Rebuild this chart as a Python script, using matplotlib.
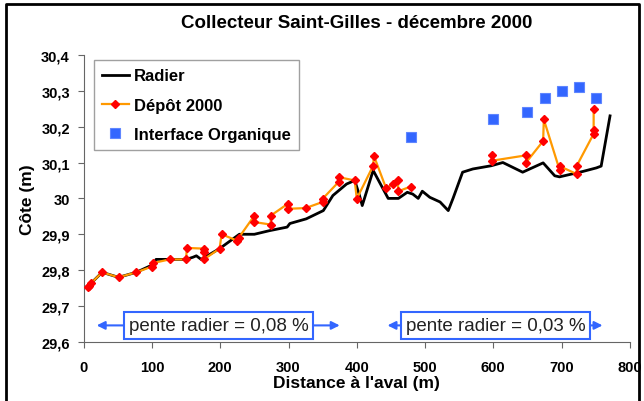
import matplotlib
matplotlib.use("Agg")
import matplotlib.pyplot as plt
from matplotlib.lines import Line2D
from matplotlib.ticker import FuncFormatter

# Radier (bottom of the sewer)
radier_x = [5, 11, 27, 51, 77, 101, 106, 150, 160, 165, 172, 199, 228, 250, 272, 298, 302,
            326, 351, 365, 385, 397, 404, 408, 424, 446, 461, 474, 482, 490, 496, 507, 522,
            534, 541, 555, 570, 597, 614, 643, 673, 690, 697, 731, 751, 758, 771]
radier_y = [29.752, 29.764, 29.794, 29.78, 29.794, 29.815, 29.83, 29.83, 29.836, 29.84, 29.83,
            29.86, 29.90, 29.90, 29.91, 29.92, 29.93, 29.943, 29.966, 30.008, 30.04, 30.05,
            30.008, 29.98, 30.078, 30.0, 30.0, 30.017, 30.012, 30.0, 30.02, 30.003, 29.99,
            29.966, 30.0, 30.073, 30.082, 30.091, 30.1, 30.073, 30.099, 30.063, 30.06, 30.075,
            30.085, 30.09, 30.23]

# Depot 2000 (gap between 480 and 600 m)
depot_x = [6, 8, 11, 27, 51, 77, 100, 102, 126, 150, 151, 176, 176, 176, 199, 202, 225, 227,
           250, 250, 274, 274, 299, 299, 325, 350, 350, 374, 374, 397, 400, 424, 425, 443,
           453, 460, 461, 479, None,
           598, 598, 648, 648, 673, 674, 697, 697, 722, 722, 747, 747, 747]
depot_y = [29.752, 29.757, 29.764, 29.794, 29.78, 29.794, 29.81, 29.82, 29.83, 29.83, 29.862,
           29.86, 29.85, 29.83, 29.86, 29.90, 29.882, 29.89, 29.952, 29.934, 29.927, 29.952,
           29.985, 29.971, 29.973, 29.99, 29.999, 30.047, 30.059, 30.05, 29.999, 30.091,
           30.119, 30.028, 30.04, 30.05, 30.02, 30.033, None,
           30.12, 30.105, 30.12, 30.10, 30.16, 30.22, 30.08, 30.09, 30.068, 30.09, 30.18,
           30.19, 30.25]

# Interface organique
interface_x = [480, 600, 650, 675, 700, 725, 750]
interface_y = [30.17, 30.22, 30.24, 30.28, 30.30, 30.31, 30.28]

x_ticks = [0, 100, 200, 300, 400, 500, 600, 700, 800]
y_ticks = [29.6, 29.7, 29.8, 29.9, 30.0, 30.1, 30.2, 30.3, 30.4]

pente_labels = ["pente radier = 0,08 %", "pente radier = 0,03 %"]

plt.rcParams['font.family'] = ['Liberation Sans', 'DejaVu Sans']

fig = plt.figure(figsize=(6.44, 4.02), dpi=100)
ax = fig.add_axes([0.130, 0.147, 0.848, 0.714])

depot_x_f = [float('nan') if v is None else v for v in depot_x]
depot_y_f = [float('nan') if v is None else v for v in depot_y]

ax.plot(radier_x, radier_y, color='black', lw=2, label='Radier', zorder=2)
ax.plot(depot_x_f, depot_y_f, color='#ff9900', lw=1.6, marker='D', ms=4.2,
        mfc='red', mec='red', label='Dépôt 2000', zorder=3)
ax.plot(interface_x, interface_y, ls='none', marker='s', ms=7.5, mfc='#3366ff',
        mec='#5f86ff', mew=0.8, label='Interface Organique', zorder=4)

ax.set_xlim(0, 800)
ax.set_ylim(29.6, 30.4)
ax.set_xticks(x_ticks)
ax.set_yticks(y_ticks)


def fmt_y(v, pos):
    s = f"{v:.1f}".replace('.', ',')
    if s.endswith(',0'):
        s = s[:-2]
    return s


ax.yaxis.set_major_formatter(FuncFormatter(fmt_y))
for lab in ax.get_xticklabels() + ax.get_yticklabels():
    lab.set_fontweight('bold')
ax.tick_params(axis='both', labelsize=10.5, length=4, width=0.8, color='#666666', pad=6)
ax.tick_params(axis='x', pad=9)

for side in ['top', 'right']:
    ax.spines[side].set_visible(False)
for side in ['left', 'bottom']:
    ax.spines[side].set_color('#666666')
    ax.spines[side].set_linewidth(0.8)

ax.set_xlabel("Distance à l'aval (m)", fontsize=12.5, fontweight='bold')
ax.xaxis.set_label_coords(0.5, -0.115)
ax.set_ylabel("Côte (m)", fontsize=12.5, fontweight='bold')
ax.yaxis.set_label_coords(-0.103, 0.5)
ax.yaxis.label.set_va('center')
ax.set_title("Collecteur Saint-Gilles - décembre 2000", fontsize=13.5,
             fontweight='bold', pad=20)

leg = ax.legend(loc='upper left', bbox_to_anchor=(0.018, 0.982), frameon=True,
                fancybox=False, prop={'weight': 'bold', 'size': 12},
                handlelength=1.6, handletextpad=0.3, borderpad=0.5,
                labelspacing=0.85, borderaxespad=0)
leg.get_frame().set_edgecolor('#888888')
leg.get_frame().set_linewidth(1.0)

# slope annotations
arrow_y = 29.646
for (x0, x1, xc), txt in zip([(19, 375, 198), (445, 760, 603)], pente_labels):
    ax.annotate('', xy=(x0, arrow_y), xytext=(x1, arrow_y),
                arrowprops=dict(arrowstyle='<|-|>', color='#3366ff', lw=1.5,
                                mutation_scale=12, shrinkA=0, shrinkB=0), zorder=5)
    ax.text(xc, arrow_y, txt, ha='center', va='center', fontsize=13.5, color='#222222',
            zorder=6, bbox=dict(boxstyle='square,pad=0.25', fc='white', ec='#3366ff', lw=1.5))

# frame around the chart
fig.add_artist(Line2D([0.009, 0.009, 0.993, 0.993], [0, 0.988, 0.988, 0],
                      transform=fig.transFigure, color='black', lw=2))

fig.savefig('out.png', dpi=100)
